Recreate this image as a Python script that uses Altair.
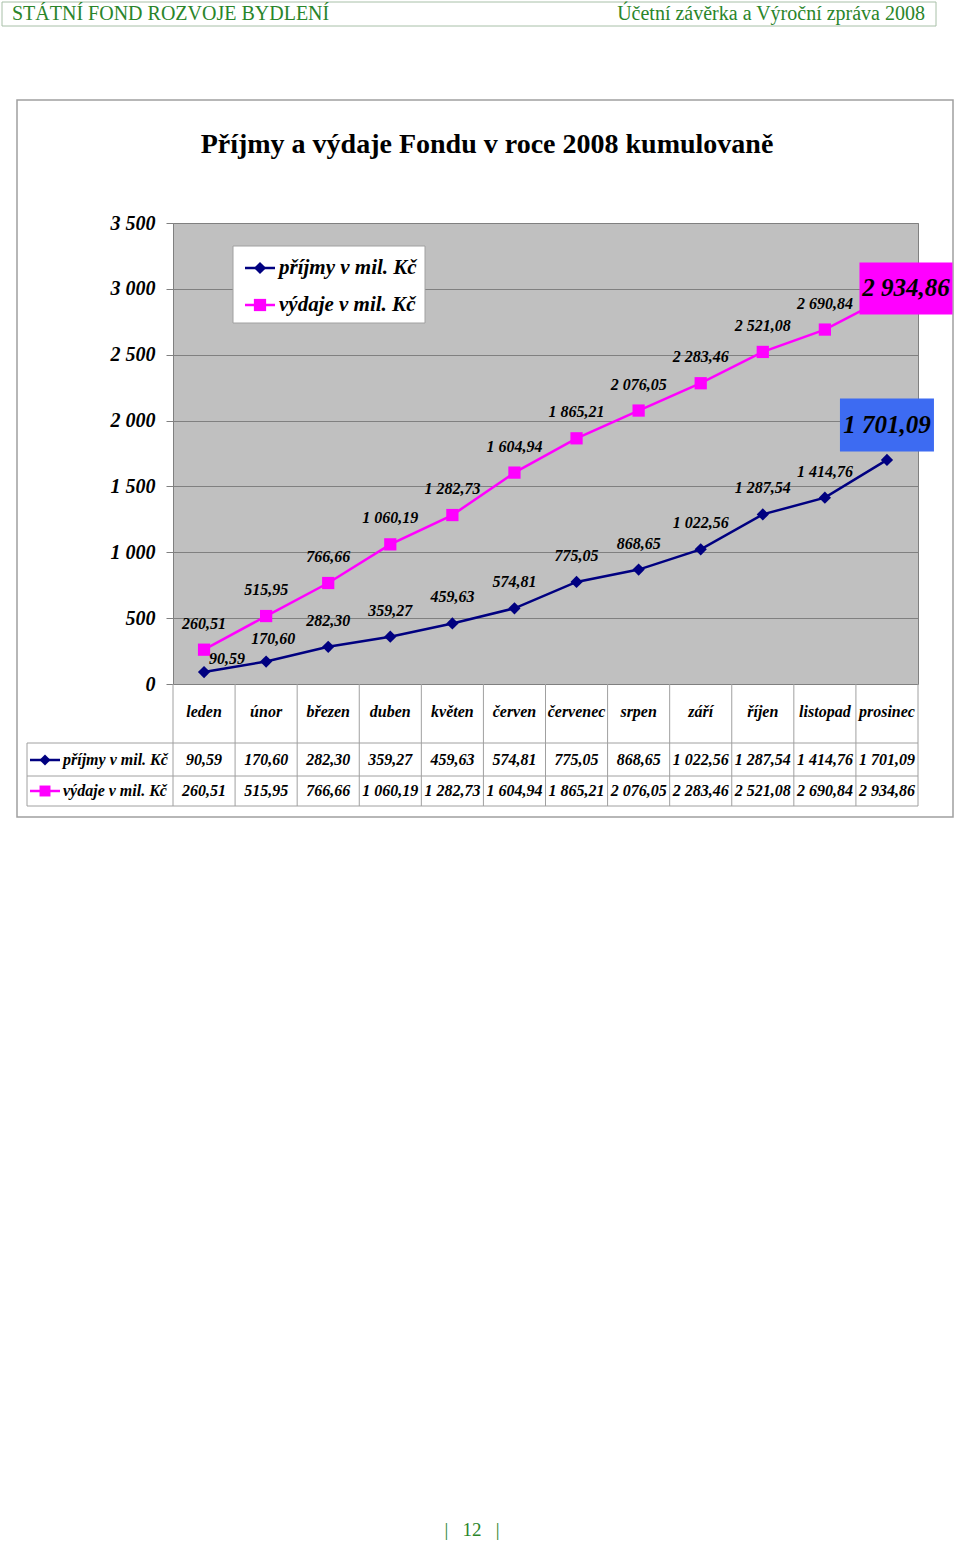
import altair as alt
import pandas as pd

# ---------------- data ----------------
months = ["leden", "únor", "březen", "duben", "květen", "červen",
          "červenec", "srpen", "září", "říjen", "listopad", "prosinec"]
prijmy = [90.59, 170.60, 282.30, 359.27, 459.63, 574.81,
          775.05, 868.65, 1022.56, 1287.54, 1414.76, 1701.09]
vydaje = [260.51, 515.95, 766.66, 1060.19, 1282.73, 1604.94,
          1865.21, 2076.05, 2283.46, 2521.08, 2690.84, 2934.86]
series = ["příjmy v mil. Kč", "výdaje v mil. Kč"]
y_ticks = [0, 500, 1000, 1500, 2000, 2500, 3000, 3500]
title_text = "Příjmy a výdaje Fondu v roce 2008 kumulovaně"
header_left = "STÁTNÍ FOND ROZVOJE BYDLENÍ"
header_right = "Účetní závěrka a Výroční zpráva 2008"
page_no = "|\u00a0\u00a0\u00a012\u00a0\u00a0\u00a0|"

rows = []
for s, vals in zip(series, [prijmy, vydaje]):
    for m, v in zip(months, vals):
        rows.append({"month": m, "series": s, "value": v})
df = pd.DataFrame(rows)
mdf = pd.DataFrame({"month": months})

# ---------------- styles ----------------
NAVY = "#000080"
MAGENTA = "#FF00FF"
BLUEBOX = "#3D6BF2"
GREEN = "#2A852A"
GRID = "#808080"
TBL = "#A0A0A0"
FONT = "Liberation Serif"
W, H = 745, 461
STEP = W / len(months)

lbl_expr = "replace(replace(format(datum.value, ',.2f'), ',', ' '), '.', ',')"

X = alt.X("month:N", sort=months, scale=alt.Scale(type="point", padding=0.5), axis=None)
Y = alt.Y("value:Q", scale=alt.Scale(domain=[0, 3500], nice=False),
          axis=alt.Axis(values=y_ticks, grid=True, gridColor=GRID, gridWidth=1,
                        domain=False, ticks=True, tickSize=7, tickColor=GRID,
                        labelPadding=11, labelFont=FONT, labelFontSize=20,
                        labelFontWeight="bold", labelFontStyle="italic",
                        labelColor="black",
                        labelExpr="replace(format(datum.value, ','), ',', ' ')",
                        title=None))
COLOR = alt.Color("series:N", scale=alt.Scale(domain=series, range=[NAVY, MAGENTA]), legend=None)
SHAPE = alt.Shape("series:N", scale=alt.Scale(domain=series, range=["diamond", "square"]), legend=None)

base = alt.Chart(df).transform_calculate(lbl=lbl_expr).encode(x=X, y=Y)


def deco():
    return alt.Chart(alt.Data(values=[{"k": 0}]))


txt = dict(font=FONT, fontWeight="bold", fontStyle="italic", color="black")

# outer chart frame and page header
frame = deco().mark_rect(fillOpacity=0, stroke=TBL, strokeWidth=1.5).encode(
    x=alt.value(-156), x2=alt.value(780), y=alt.value(-123), y2=alt.value(594))
header_box = deco().mark_rect(fillOpacity=0, stroke="#A8C0A8", strokeWidth=1).encode(
    x=alt.value(-171), x2=alt.value(763), y=alt.value(-221), y2=alt.value(-197))
header_l = deco().mark_text(text=header_left, font=FONT, fontSize=20, color=GREEN,
                            align="left", baseline="middle").encode(
    x=alt.value(-161), y=alt.value(-209))
header_r = deco().mark_text(text=header_right, font=FONT, fontSize=20, color=GREEN,
                            align="right", baseline="middle").encode(
    x=alt.value(752), y=alt.value(-209))
page = deco().mark_text(text=page_no, font=FONT, fontSize=19, color=GREEN,
                        align="center", baseline="middle").encode(
    x=alt.value(299), y=alt.value(1307))
title = deco().mark_text(text=title_text, font=FONT, fontSize=28, fontWeight="bold",
                         color="black", align="center", baseline="middle").encode(
    x=alt.value(314), y=alt.value(-78))

# series
lines = base.mark_line(strokeWidth=2.5).encode(color=COLOR)
points = base.mark_point(filled=True, opacity=1, size=150).encode(color=COLOR, shape=SHAPE)

main_filter = (f"!(datum.series == '{series[0]}' && (datum.month == '{months[0]}' || "
               f"datum.month == '{months[1]}')) && datum.month != '{months[-1]}'")
labels = base.transform_filter(main_filter).mark_text(
    fontSize=16, dy=-26, align="center", baseline="middle", **txt).encode(text="lbl:N")
lab_jan = base.transform_filter(
    f"datum.series == '{series[0]}' && datum.month == '{months[0]}'").mark_text(
    fontSize=16, dx=23, dy=-13, align="center", baseline="middle", **txt).encode(text="lbl:N")
lab_feb = base.transform_filter(
    f"datum.series == '{series[0]}' && datum.month == '{months[1]}'").mark_text(
    fontSize=16, dx=7, dy=-23, align="center", baseline="middle", **txt).encode(text="lbl:N")

last_v = base.transform_filter(
    f"datum.series == '{series[1]}' && datum.month == '{months[-1]}'")
last_p = base.transform_filter(
    f"datum.series == '{series[0]}' && datum.month == '{months[-1]}'")
box_v = last_v.mark_point(shape="M-1,-0.56H1V0.56H-1Z", filled=True, opacity=1,
                          fill=MAGENTA, strokeWidth=0, size=93 * 93,
                          xOffset=19, yOffset=-9)
box_v_t = last_v.mark_text(fontSize=25, dx=19, dy=-9, align="center",
                           baseline="middle", **txt).encode(text="lbl:N")
box_p = last_p.mark_point(shape="M-1,-0.564H1V0.564H-1Z", filled=True, opacity=1,
                          fill=BLUEBOX, strokeWidth=0, size=94 * 94,
                          xOffset=0, yOffset=-35)
box_p_t = last_p.mark_text(fontSize=25, dy=-35, align="center",
                           baseline="middle", **txt).encode(text="lbl:N")

# in-plot legend
leg_box = deco().mark_rect(fill="white", stroke=TBL, strokeWidth=1).encode(
    x=alt.value(60), x2=alt.value(252), y=alt.value(23), y2=alt.value(100))
leg_layers = []
for s, col, shp, yy in [(series[0], NAVY, "diamond", 45), (series[1], MAGENTA, "square", 82)]:
    leg_layers.append(deco().mark_rule(color=col, strokeWidth=2.5).encode(
        x=alt.value(72), x2=alt.value(102), y=alt.value(yy)))
    leg_layers.append(deco().mark_point(shape=shp, filled=True, opacity=1, color=col,
                                        size=150).encode(x=alt.value(87), y=alt.value(yy)))
    leg_layers.append(deco().mark_text(text=s, fontSize=21, align="left",
                                       baseline="middle", **txt).encode(
        x=alt.value(106), y=alt.value(yy)))

# data table below the plot
cat_labels = alt.Chart(mdf).mark_text(fontSize=16, align="center", baseline="middle",
                                      **txt).encode(x=X, y=alt.value(489), text="month:N")
vrules = alt.Chart(mdf).mark_rule(color=TBL, strokeWidth=1, xOffset=-STEP / 2).encode(
    x=X, y=alt.value(H), y2=alt.value(583))
right_rule = deco().mark_rule(color=TBL, strokeWidth=1).encode(
    x=alt.value(W), y=alt.value(H), y2=alt.value(583))
left_rule = deco().mark_rule(color=TBL, strokeWidth=1).encode(
    x=alt.value(-146), y=alt.value(520), y2=alt.value(583))
hrules = [deco().mark_rule(color=TBL, strokeWidth=1).encode(
    x=alt.value(-146), x2=alt.value(W), y=alt.value(yy)) for yy in (520, 553, 583)]

table_layers = []
for s, col, shp, yy in [(series[0], NAVY, "diamond", 537), (series[1], MAGENTA, "square", 568)]:
    table_layers.append(deco().mark_rule(color=col, strokeWidth=2.5).encode(
        x=alt.value(-143), x2=alt.value(-113), y=alt.value(yy)))
    table_layers.append(deco().mark_point(shape=shp, filled=True, opacity=1, color=col,
                                          size=120).encode(x=alt.value(-128), y=alt.value(yy)))
    table_layers.append(deco().mark_text(text=s, fontSize=16, align="left",
                                         baseline="middle", **txt).encode(
        x=alt.value(-110), y=alt.value(yy)))
    table_layers.append(base.transform_filter(f"datum.series == '{s}'").mark_text(
        fontSize=16, align="center", baseline="middle", **txt).encode(
        text="lbl:N", y=alt.value(yy)))

chart = alt.layer(
    lines, frame, header_box, header_l, header_r, page, title,
    leg_box, *leg_layers,
    points, labels, lab_jan, lab_feb,
    box_v, box_v_t, box_p, box_p_t,
    cat_labels, vrules, right_rule, left_rule, *hrules, *table_layers,
).properties(
    width=W, height=H,
    autosize=alt.AutoSizeParams(type="none"),
    padding={"left": 173, "top": 223, "right": 42, "bottom": 861},
    background="white",
).configure_view(fill="#C0C0C0", stroke=GRID, strokeWidth=1)

chart.save("out.html", embed_options={"renderer": "svg", "actions": False})
